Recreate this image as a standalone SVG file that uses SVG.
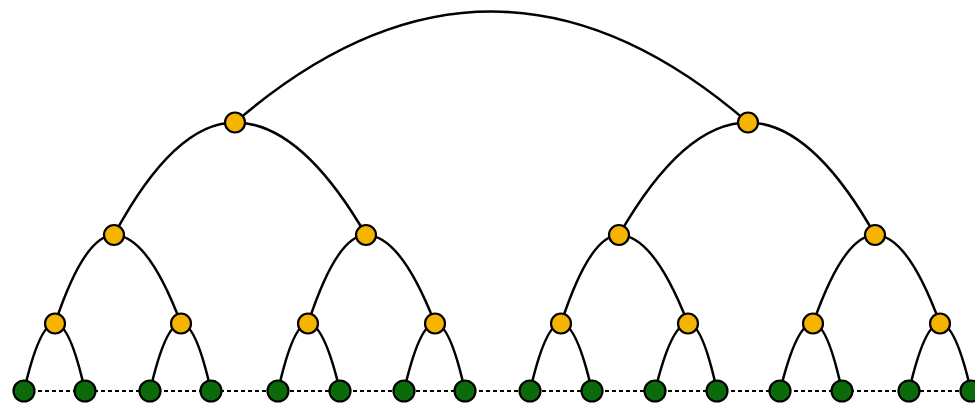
<svg xmlns="http://www.w3.org/2000/svg" width="975" height="404" viewBox="0 0 975 404">
<style>
.e{fill:none;stroke:#000;stroke-width:2.5}
.d{fill:none;stroke:#000;stroke-width:2;stroke-dasharray:4 3}
.y{fill:#F4B400;stroke:#000;stroke-width:2.2}
.g{fill:#0B6B0B;stroke:#000;stroke-width:2.2}
</style>
<rect width="975" height="404" fill="#fff"/>
<g id="connectors">
<line class="d" x1="24" y1="391" x2="971" y2="391"/>
<path class="e" d="M235,122.5 Q491.5,-99.5 748,122.5"/>
<path class="e" d="M235,122.5 Q174.5,122.5 114,235"/>
<path class="e" d="M235,122.5 Q300.5,122.5 366,235"/>
<path class="e" d="M748,122.5 Q683.5,122.5 619,235"/>
<path class="e" d="M748,122.5 Q811.5,122.5 875,235"/>
<path class="e" d="M114,235 Q84.5,235 55,323.5"/>
<path class="e" d="M114,235 Q147.5,235 181,323.5"/>
<path class="e" d="M366,235 Q337,235 308,323.5"/>
<path class="e" d="M366,235 Q400.5,235 435,323.5"/>
<path class="e" d="M619,235 Q590,235 561,323.5"/>
<path class="e" d="M619,235 Q653.5,235 688,323.5"/>
<path class="e" d="M875,235 Q844,235 813,323.5"/>
<path class="e" d="M875,235 Q907.5,235 940,323.5"/>
<path class="e" d="M55,323.5 Q39.5,323.5 24,391"/>
<path class="e" d="M55,323.5 Q70,323.5 85,391"/>
<path class="e" d="M181,323.5 Q165.5,323.5 150,391"/>
<path class="e" d="M181,323.5 Q196,323.5 211,391"/>
<path class="e" d="M308,323.5 Q293,323.5 278,391"/>
<path class="e" d="M308,323.5 Q324,323.5 340,391"/>
<path class="e" d="M435,323.5 Q419.5,323.5 404,391"/>
<path class="e" d="M435,323.5 Q450,323.5 465,391"/>
<path class="e" d="M561,323.5 Q545.5,323.5 530,391"/>
<path class="e" d="M561,323.5 Q576.5,323.5 592,391"/>
<path class="e" d="M688,323.5 Q671.5,323.5 655,391"/>
<path class="e" d="M688,323.5 Q702.5,323.5 717,391"/>
<path class="e" d="M813,323.5 Q796.5,323.5 780,391"/>
<path class="e" d="M813,323.5 Q827.5,323.5 842,391"/>
<path class="e" d="M940,323.5 Q924.5,323.5 909,391"/>
<path class="e" d="M940,323.5 Q955.5,323.5 971,391"/>
</g>
<g id="n3a"><circle class="y" cx="235" cy="122.5" r="10"/></g>
<g id="n3b"><circle class="y" cx="748" cy="122.5" r="10"/></g>
<g id="n2a"><circle class="y" cx="114" cy="235" r="10"/></g>
<g id="n2b"><circle class="y" cx="366" cy="235" r="10"/></g>
<g id="n2c"><circle class="y" cx="619" cy="235" r="10"/></g>
<g id="n2d"><circle class="y" cx="875" cy="235" r="10"/></g>
<g id="n1a"><circle class="y" cx="55" cy="323.5" r="10"/></g>
<g id="n1b"><circle class="y" cx="181" cy="323.5" r="10"/></g>
<g id="n1c"><circle class="y" cx="308" cy="323.5" r="10"/></g>
<g id="n1d"><circle class="y" cx="435" cy="323.5" r="10"/></g>
<g id="n1e"><circle class="y" cx="561" cy="323.5" r="10"/></g>
<g id="n1f"><circle class="y" cx="688" cy="323.5" r="10"/></g>
<g id="n1g"><circle class="y" cx="813" cy="323.5" r="10"/></g>
<g id="n1h"><circle class="y" cx="940" cy="323.5" r="10"/></g>
<g id="l1"><circle class="g" cx="24" cy="391" r="10.5"/></g>
<g id="l2"><circle class="g" cx="85" cy="391" r="10.5"/></g>
<g id="l3"><circle class="g" cx="150" cy="391" r="10.5"/></g>
<g id="l4"><circle class="g" cx="211" cy="391" r="10.5"/></g>
<g id="l5"><circle class="g" cx="278" cy="391" r="10.5"/></g>
<g id="l6"><circle class="g" cx="340" cy="391" r="10.5"/></g>
<g id="l7"><circle class="g" cx="404" cy="391" r="10.5"/></g>
<g id="l8"><circle class="g" cx="465" cy="391" r="10.5"/></g>
<g id="l9"><circle class="g" cx="530" cy="391" r="10.5"/></g>
<g id="l10"><circle class="g" cx="592" cy="391" r="10.5"/></g>
<g id="l11"><circle class="g" cx="655" cy="391" r="10.5"/></g>
<g id="l12"><circle class="g" cx="717" cy="391" r="10.5"/></g>
<g id="l13"><circle class="g" cx="780" cy="391" r="10.5"/></g>
<g id="l14"><circle class="g" cx="842" cy="391" r="10.5"/></g>
<g id="l15"><circle class="g" cx="909" cy="391" r="10.5"/></g>
<g id="l16"><circle class="g" cx="971" cy="391" r="10.5"/></g>
</svg>
